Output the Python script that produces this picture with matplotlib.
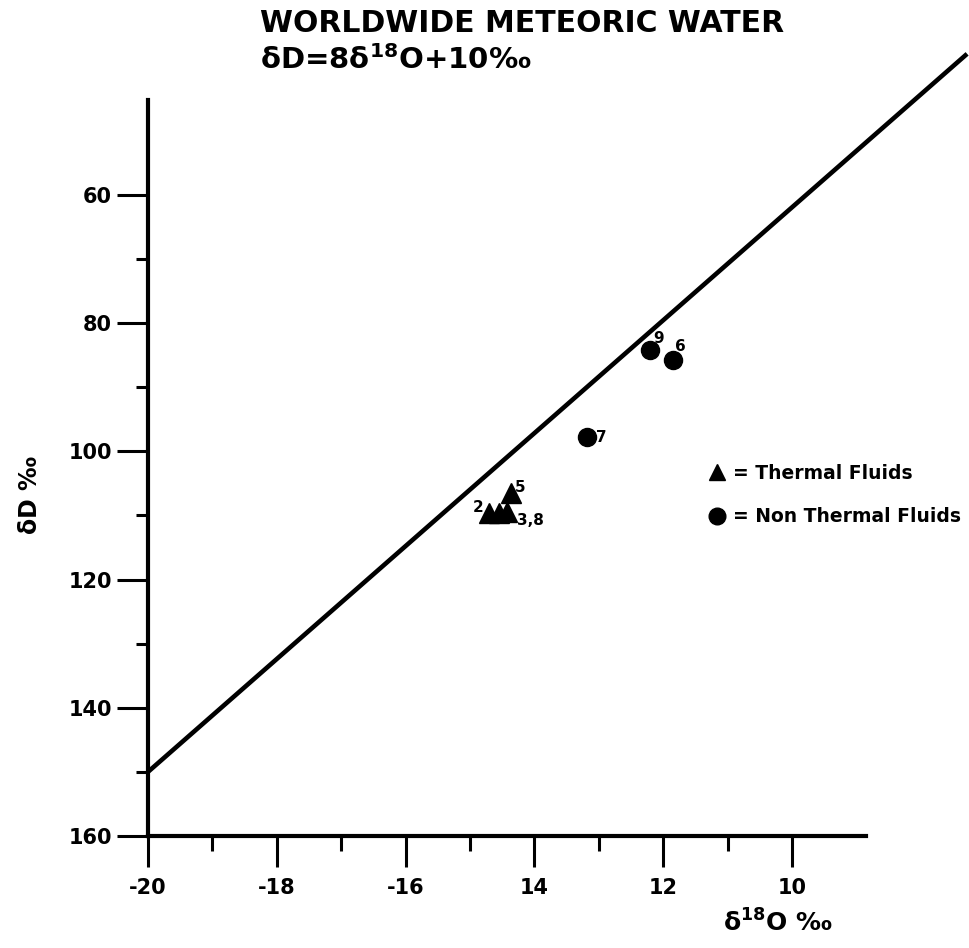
import matplotlib
matplotlib.use("Agg")
import matplotlib.pyplot as plt
from matplotlib.lines import Line2D

plt.rcParams['font.family'] = ['DejaVu Sans']
plt.rcParams['font.weight'] = 'bold'
plt.rcParams['mathtext.default'] = 'bf'

# ---- data ----
title_line1 = "WORLDWIDE METEORIC WATER"
title_line2 = "δD=8δ$^{18}$O+10‰"
x_label = "δ$^{18}$O ‰"
y_label = "δD ‰"

x_major_ticks = [-20, -18, -16, -14, -12, -10]
x_tick_labels = ["-20", "-18", "-16", "14", "12", "10"]
x_minor_ticks = [-19, -17, -15, -13, -11]
y_major_ticks = [60, 80, 100, 120, 140, 160]
y_tick_labels = ["60", "80", "100", "120", "140", "160"]
y_minor_ticks = [70, 90, 110, 130, 150]

meteoric_d18o = [-20.0, -7.28]
meteoric_dd = [150.0, 38.0]

thermal_d18o = [-14.70, -14.55, -14.43, -14.36]
thermal_dd = [109.6, 109.6, 109.5, 106.5]

nonthermal_d18o = [-12.20, -11.85, -13.18]
nonthermal_dd = [84.2, 85.7, 97.8]

label_texts = ["2", "3,8", "5", "9", "6", "7"]
label_d18o = [-14.70, -14.43, -14.36, -12.20, -11.85, -13.18]
label_dd = [109.6, 109.5, 106.5, 84.2, 85.7, 97.8]

legend_labels = ["= Thermal Fluids", "= Non Thermal Fluids"]

# ---- figure ----
fig = plt.figure(figsize=(9.7, 9.48), dpi=100)
ax = fig.add_axes([148/970, 112/948, 718/970, 736/948])

ax.set_xlim(-20, -8.85)
ax.set_ylim(160, 45.2)

for s in ['top', 'right']:
    ax.spines[s].set_visible(False)
for s in ['left', 'bottom']:
    ax.spines[s].set_linewidth(3.0)

ax.set_xticks(x_major_ticks)
ax.set_xticklabels(x_tick_labels)
ax.set_xticks(x_minor_ticks, minor=True)
ax.set_yticks(y_major_ticks)
ax.set_yticklabels(y_tick_labels)
ax.set_yticks(y_minor_ticks, minor=True)

ax.tick_params(axis='both', which='major', direction='out', length=22,
               width=2.2, labelsize=15, color='black')
ax.tick_params(axis='x', which='major', pad=8)
ax.tick_params(axis='y', which='major', pad=4)
ax.tick_params(axis='x', which='minor', direction='out', length=11, width=2.2)
ax.tick_params(axis='y', which='minor', direction='out', length=9, width=2.2)

# meteoric water line
ax.plot(meteoric_d18o, meteoric_dd, color='black', lw=3.3, clip_on=False,
        solid_capstyle='butt')

# points
ax.plot(thermal_d18o, thermal_dd, linestyle='none', marker='^', ms=15,
        color='black', clip_on=False)
ax.plot(nonthermal_d18o, nonthermal_dd, linestyle='none', marker='o', ms=13,
        color='black', clip_on=False)

offsets = [(-11, 5), (24, -8), (9, 6), (8, 12), (8, 13), (14, 0)]
for t, xv, yv, off in zip(label_texts, label_d18o, label_dd, offsets):
    ax.annotate(t, (xv, yv), xytext=off, textcoords='offset pixels',
                fontsize=11, fontweight='bold', ha='center', va='center')

# legend
handles = [Line2D([], [], linestyle='none', marker='^', ms=12, color='black'),
           Line2D([], [], linestyle='none', marker='o', ms=12, color='black')]
fig.legend(handles, legend_labels, loc='upper left',
           bbox_to_anchor=(709/970, 1 - 464/948), bbox_transform=fig.transFigure,
           frameon=False, fontsize=13.5, handlelength=0.9, handletextpad=0.4,
           labelspacing=1.3, borderpad=0, borderaxespad=0)

# titles and axis labels
fig.text(260/970, 1 - 24/948, title_line1, fontsize=21.5, fontweight='bold',
         ha='left', va='center')
fig.text(260/970, 1 - 60/948, title_line2, fontsize=21, fontweight='bold',
         ha='left', va='center')
fig.text(30/970, 1 - 495/948, y_label, fontsize=17, fontweight='bold',
         rotation=90, ha='center', va='center')
fig.text(778/970, 1 - 923/948, x_label, fontsize=18, fontweight='bold',
         ha='center', va='center')

fig.savefig("out.png", dpi=100)
